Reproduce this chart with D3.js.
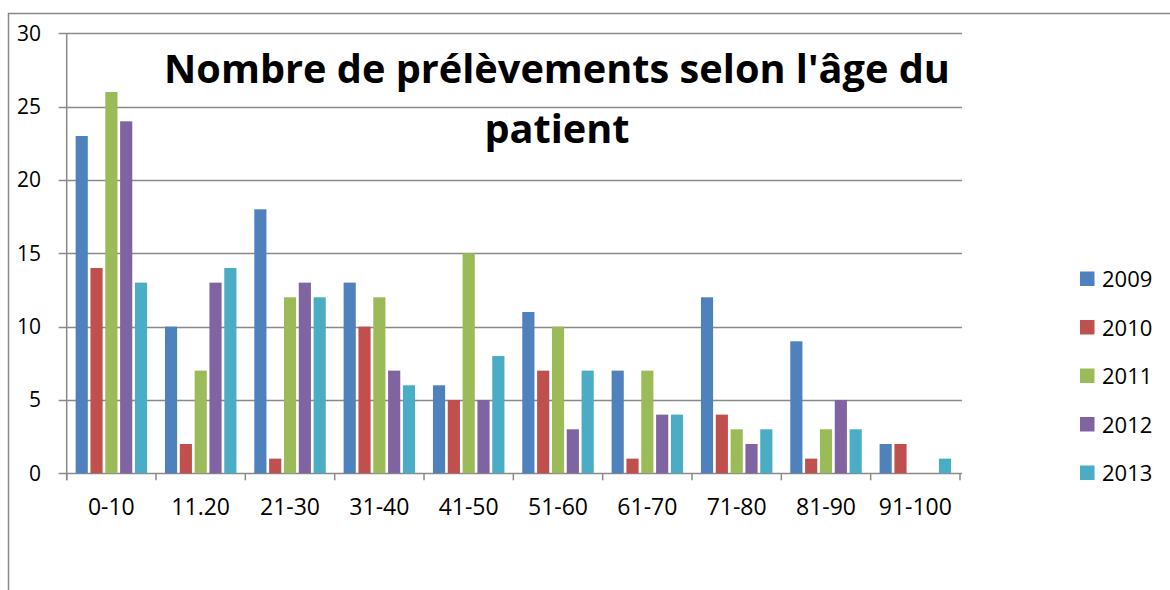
<!DOCTYPE html>
<html>
<head>
<meta charset="utf-8">
<script src="https://cdn.jsdelivr.net/npm/d3@7"></script>
<style>
  body { margin: 0; background: #fff; }
  svg { display: block; font-family: "Open Sans", sans-serif; }
</style>
</head>
<body>
<div id="chart"></div>
<script>
// categories and series
var ageGroups = ["0-10", "11.20", "21-30", "31-40", "41-50", "51-60", "61-70", "71-80", "81-90", "91-100"];
var years = ["2009", "2010", "2011", "2012", "2013"];
var v2009 = [23, 10, 18, 13, 6, 11, 7, 12, 9, 2];
var v2010 = [14, 2, 1, 10, 5, 7, 1, 4, 1, 2];
var v2011 = [26, 7, 12, 12, 15, 10, 7, 3, 3, 0];
var v2012 = [24, 13, 13, 7, 5, 3, 4, 2, 5, 0];
var v2013 = [13, 14, 12, 6, 8, 7, 4, 3, 3, 1];
var yTicks = [0, 5, 10, 15, 20, 25, 30];
var titleLines = ["Nombre de prélèvements selon l'âge du", "patient"];

var seriesValues = [v2009, v2010, v2011, v2012, v2013];
var colors = ["#4F81BD", "#C0504D", "#9BBB59", "#8064A2", "#4BACC6"];

var width = 1170, height = 590;
var plot = { left: 66.7, right: 960, top: 33.3, bottom: 473.3 };

var svg = d3.select("#chart").append("svg")
  .attr("width", width)
  .attr("height", height);

// outer chart frame (cut off on right and bottom)
svg.append("path")
  .attr("d", "M8.5," + height + "V13.5H" + width)
  .attr("fill", "none")
  .attr("stroke", "#888")
  .attr("stroke-width", 1.5);

var x0 = d3.scaleBand()
  .domain(ageGroups)
  .range([plot.left, plot.right])
  .paddingInner(0.2)
  .paddingOuter(0.1);

var x1 = d3.scaleBand()
  .domain(years)
  .range([0, x0.bandwidth()])
  .paddingInner(0.18);

var y = d3.scaleLinear()
  .domain([0, 30])
  .range([plot.bottom, plot.top]);

// gridlines
svg.append("g")
  .selectAll("line")
  .data(yTicks)
  .enter().append("line")
  .attr("x1", plot.left - 8)
  .attr("x2", plot.right + 2)
  .attr("y1", function (d) { return Math.round(y(d)) + 0.5; })
  .attr("y2", function (d) { return Math.round(y(d)) + 0.5; })
  .attr("stroke", "#8a8a8a")
  .attr("stroke-width", 1.5);

// y axis line
svg.append("line")
  .attr("x1", plot.left).attr("x2", plot.left)
  .attr("y1", plot.top).attr("y2", plot.bottom + 7)
  .attr("stroke", "#8a8a8a")
  .attr("stroke-width", 1.5);

// y labels
svg.append("g")
  .selectAll("text")
  .data(yTicks)
  .enter().append("text")
  .attr("x", 41)
  .attr("y", function (d) { return y(d) + 7.5; })
  .attr("text-anchor", "end")
  .attr("font-size", 21)
  .attr("fill", "#000")
  .text(function (d) { return d; });

// category boundary ticks
var boundaries = ageGroups.map(function (d) { return x0(d) - x0.step() * x0.paddingOuter(); });
boundaries.push(plot.right);
svg.append("g")
  .selectAll("line")
  .data(boundaries)
  .enter().append("line")
  .attr("x1", function (d) { return d; })
  .attr("x2", function (d) { return d; })
  .attr("y1", plot.bottom)
  .attr("y2", plot.bottom + 7)
  .attr("stroke", "#8a8a8a")
  .attr("stroke-width", 1.5);

// bars
var groups = svg.append("g")
  .selectAll("g")
  .data(ageGroups)
  .enter().append("g")
  .attr("transform", function (d) { return "translate(" + x0(d) + ",0)"; });

groups.selectAll("rect")
  .data(function (d, i) {
    return years.map(function (yr, j) { return { year: yr, value: seriesValues[j][i], color: colors[j] }; });
  })
  .enter().append("rect")
  .filter(function (d) { return d.value > 0; })
  .attr("x", function (d) { return x1(d.year); })
  .attr("width", x1.bandwidth())
  .attr("y", function (d) { return y(d.value); })
  .attr("height", function (d) { return y(0) - y(d.value); })
  .attr("fill", function (d) { return d.color; });

// x labels
svg.append("g")
  .selectAll("text")
  .data(ageGroups)
  .enter().append("text")
  .attr("x", function (d) { return x0(d) + x0.bandwidth() / 2; })
  .attr("y", 515)
  .attr("text-anchor", "middle")
  .attr("font-size", 23)
  .attr("fill", "#000")
  .text(function (d) { return d; });

// title, fitted to the width in the picture
var title = svg.append("g");
var t1 = title.append("text")
  .attr("x", 557).attr("y", 83)
  .attr("text-anchor", "middle")
  .attr("font-weight", "bold")
  .attr("font-size", 40)
  .text(titleLines[0]);
var fs = 40 * 786 / t1.node().getComputedTextLength();
t1.attr("font-size", fs);
title.append("text")
  .attr("x", 557).attr("y", 143)
  .attr("text-anchor", "middle")
  .attr("font-weight", "bold")
  .attr("font-size", fs)
  .text(titleLines[1]);

// legend
var legend = svg.append("g")
  .selectAll("g")
  .data(years)
  .enter().append("g")
  .attr("transform", function (d, i) { return "translate(1080," + (271.5 + i * 48.5) + ")"; });

legend.append("rect")
  .attr("width", 14.5)
  .attr("height", 14.5)
  .attr("fill", function (d, i) { return colors[i]; });

legend.append("text")
  .attr("x", 22)
  .attr("y", 15.5)
  .attr("font-size", 22)
  .attr("fill", "#000")
  .text(function (d) { return d; });
</script>
</body>
</html>
